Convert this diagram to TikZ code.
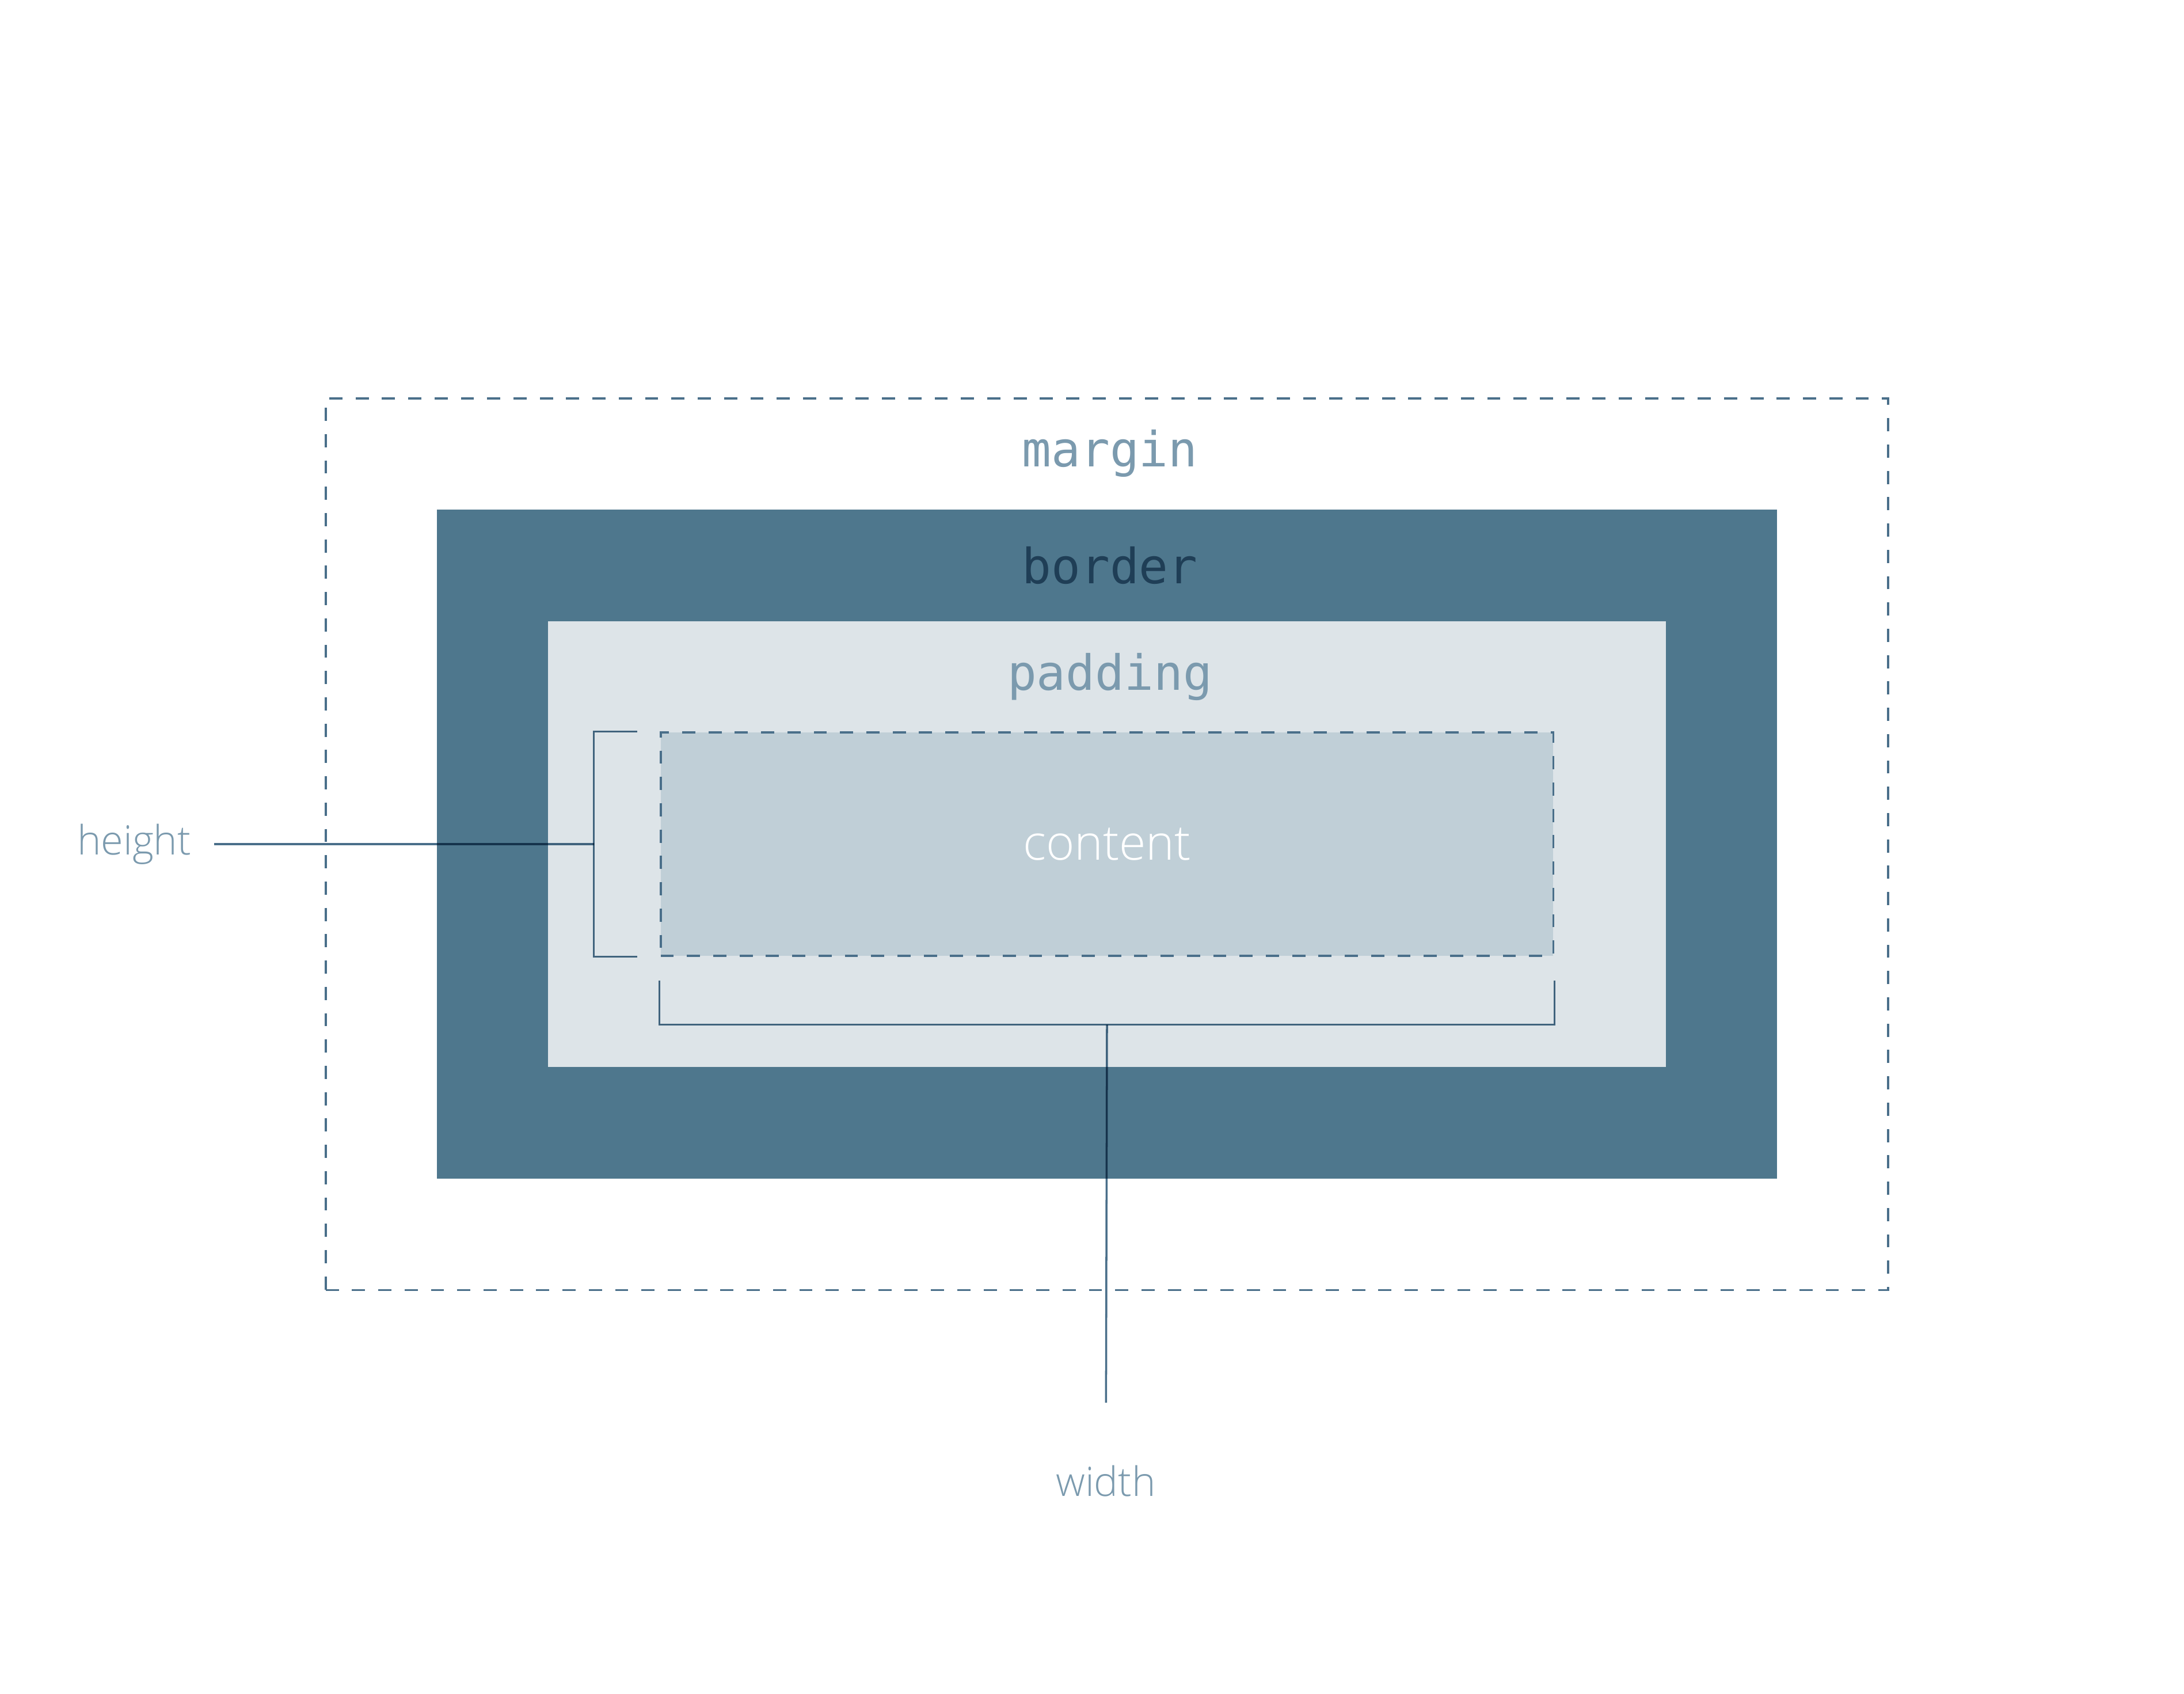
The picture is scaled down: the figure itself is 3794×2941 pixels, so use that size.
\documentclass[tikz,border=0pt]{standalone}
\usepackage{fontspec}
\setmainfont{Open Sans}[UprightFont={* Light}]
\newfontfamily\boxfont{DejaVu Sans Mono}
\usetikzlibrary{positioning}
\definecolor{linecol}{HTML}{4A6F8A}
\definecolor{borderfill}{HTML}{4E778D}
\definecolor{padfill}{HTML}{DDE4E8}
\definecolor{contentfill}{HTML}{C0CFD7}
\definecolor{softtext}{HTML}{7B9AAE}
\definecolor{darktext}{HTML}{1F3E56}

\begin{document}
\begin{tikzpicture}[x=0.01cm, y=-0.01cm,
  dashbox/.style={draw=linecol, line width=1.1pt, dash pattern=on 6.5pt off 6.5pt},
  layerbox/.style={rectangle, inner sep=0pt},
  boxlabel/.style={inner sep=0pt, minimum height=1.935cm, xshift=0.05cm, font=\fontsize{24}{24}\selectfont\boxfont},
  sidelabel/.style={inner sep=0pt, text=softtext, font=\fontsize{20}{20}\selectfont},
  bracket/.style={draw=linecol, line width=1pt},
  leader/.style={draw=linecol, line width=1pt}]
\useasboundingbox (0,0) rectangle (3794,2941);
% the four boxes, one inside the other
\node[layerbox, dashbox, minimum width=27.13cm, minimum height=15.48cm] (margin) at (1923,1466) {};
\node[layerbox, fill=borderfill, minimum width=23.27cm, minimum height=11.61cm] (border) at (1923,1466) {};
\node[layerbox, fill=padfill, minimum width=19.41cm, minimum height=7.74cm] (padding) at (1923,1466) {};
\node[layerbox, dashbox, fill=contentfill, minimum width=15.5cm, minimum height=3.87cm,
  text=white, font=\fontsize{24}{24}\selectfont] (content) at (1923,1466) {content};
% names in the top band of each box
\node[boxlabel, text=softtext, below=0pt of margin.north] (marginlbl) {margin};
\node[boxlabel, text=darktext, below=0pt of border.north] (borderlbl) {border};
\node[boxlabel, text=softtext, below=0pt of padding.north] (paddinglbl) {padding};
% height and width of the content
\node[sidelabel, inner xsep=0.39cm] (height) at (233,1466) {height};
\node[sidelabel, inner ysep=1.08cm] (width) at (1921,2572) {width};
\coordinate (hmid) at ([xshift=-1.14cm]content.west);
\coordinate (wmid) at ([yshift=-1.18cm]content.south);
\begin{scope}[blend mode=multiply]
\draw[bracket] ([xshift=-0.39cm]content.north west) -| (hmid)
  |- ([xshift=-0.39cm]content.south west);
\draw[bracket] ([yshift=-0.41cm]content.south west) |- (wmid)
  -| ([yshift=-0.41cm]content.south east);
\draw[leader] (height) -- (hmid);
\draw[leader] (wmid) -- (width);
\end{scope}
\end{tikzpicture}
\end{document}
